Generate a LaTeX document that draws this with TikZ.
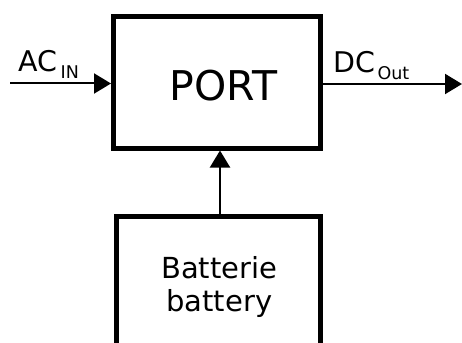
\documentclass[tikz,border=0pt]{standalone}
\usepackage{fontspec}
\setmainfont{DejaVu Sans}
\usetikzlibrary{arrows.meta}
\tikzset{
  block/.style={draw, line width=5pt, inner sep=0pt},
  conn/.style={line width=2pt, -{Triangle[length=17pt,width=20pt]}},
  lbl/.style={inner sep=0pt, anchor=base west, font=\fontsize{28.5}{34}\selectfont}
}
\begin{document}
\begin{tikzpicture}[x=1pt,y=-1pt]
\useasboundingbox (0,0) rectangle (462,342);
\clip (0,0) rectangle (462,342);
\node[block, minimum width=207pt, minimum height=131pt] (port) at (217,82.5) {};
\node[inner sep=0pt, anchor=base, font=\fontsize{41}{41}\selectfont]
  (porttext) at (223.3,100) {PORT};
\node[block, minimum width=204pt, minimum height=160pt] (battery) at (218,296.5) {};
\node[inner sep=0pt, anchor=base, align=center, font=\fontsize{29}{33.4}\selectfont]
  (btext) at (219.3,311.7) {Batterie\\battery};
\coordinate (acin) at (10,83.5);
\coordinate (dcout) at (462,84);
\coordinate (vx) at (220,0);
\draw[conn] (acin) -- (acin -| port.west);
\draw[conn] (dcout -| port.east) -- (dcout);
\draw[conn] (vx |- battery.north) -- (vx |- port.south);
\node[lbl] (aclbl) at (18,72) {AC\kern3.5pt\raisebox{-6.5pt}{\fontsize{17.5}{17.5}\selectfont IN}};
\node[lbl] (dclbl) at (333,73) {DC\kern2.5pt\raisebox{-6.3pt}{\fontsize{17.5}{17.5}\selectfont Out}};
\end{tikzpicture}
\end{document}
